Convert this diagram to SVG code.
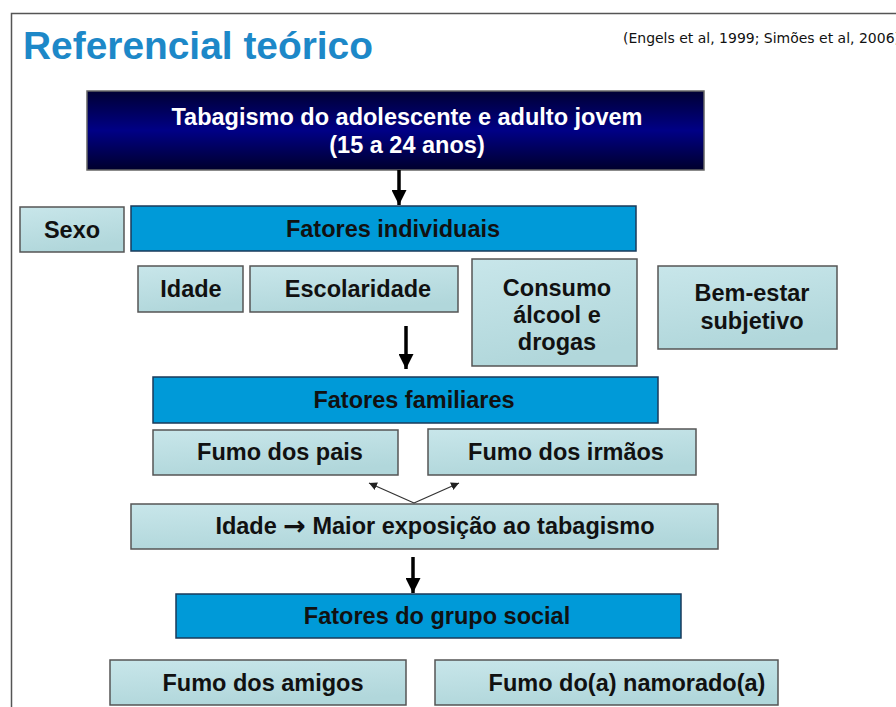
<svg xmlns="http://www.w3.org/2000/svg" width="896" height="707" viewBox="0 0 896 707">
<defs>
<linearGradient id="gDark" x1="0" y1="0" x2="0" y2="1">
<stop offset="0" stop-color="#000033"/>
<stop offset="0.5" stop-color="#000086"/>
<stop offset="1" stop-color="#00002c"/>
</linearGradient>
<linearGradient id="gLight" x1="0" y1="0" x2="0.3" y2="1">
<stop offset="0" stop-color="#c8e6ea"/>
<stop offset="1" stop-color="#b1d7db"/>
</linearGradient>
<marker id="headBig" markerUnits="userSpaceOnUse" markerWidth="16" markerHeight="15" refX="15" refY="7.5" orient="auto">
<path d="M0,0 L15,7.5 L0,15 Z" fill="#000"/>
</marker>
<marker id="headSmall" markerUnits="userSpaceOnUse" markerWidth="9" markerHeight="8" refX="8" refY="4" orient="auto">
<path d="M0,0 L8,4 L0,8 Z" fill="#222"/>
</marker>
<style>
.t{font-family:"Liberation Sans",Arial,sans-serif;font-weight:bold;font-size:23.5px;fill:#111;text-anchor:middle}
.w{fill:#fff}
.light{fill:url(#gLight);stroke:#555;stroke-width:1.5}
.cyan{fill:#009ad8;stroke:#1a3a5a;stroke-width:1.5}
.dark{fill:url(#gDark);stroke:#666;stroke-width:1.5}
.big{stroke:#000;stroke-width:3.5;fill:none;marker-end:url(#headBig)}
.thin{stroke:#333;stroke-width:1.3;fill:none;marker-end:url(#headSmall)}
</style>
</defs>
<rect x="0" y="0" width="896" height="707" fill="#fff"/>
<path d="M11.5,707 V13.5 H896" fill="none" stroke="#555" stroke-width="1.5"/>
<text x="23" y="59" font-family="'Liberation Sans',Arial,sans-serif" font-weight="bold" font-size="38" fill="#1d88c8" textLength="350" lengthAdjust="spacingAndGlyphs">Referencial teórico</text>
<text x="623" y="43" font-family="'DejaVu Sans',Tahoma,sans-serif" font-size="13.5" fill="#111" textLength="277" lengthAdjust="spacingAndGlyphs">(Engels et al, 1999; Simões et al, 2006)</text>

<g id="top">
<rect class="dark" x="87" y="91" width="617" height="79"/>
<text class="t w" x="407" y="125">Tabagismo do adolescente e adulto jovem</text>
<text class="t w" x="407" y="153">(15 a 24 anos)</text>
</g>
<g id="sexo">
<rect class="light" x="20" y="207" width="104" height="45"/>
<text class="t" x="72" y="238">Sexo</text>
</g>
<g id="fatores-individuais">
<rect class="cyan" x="131" y="206" width="505" height="45"/>
<text class="t" x="393" y="237">Fatores individuais</text>
</g>
<g id="idade">
<rect class="light" x="138" y="266" width="105" height="46"/>
<text class="t" x="191" y="297">Idade</text>
</g>
<g id="escolaridade">
<rect class="light" x="250" y="266" width="208" height="46"/>
<text class="t" x="358" y="297">Escolaridade</text>
</g>
<g id="consumo">
<rect class="light" x="472" y="259" width="165" height="107"/>
<text class="t" x="557" y="296">Consumo</text>
<text class="t" x="557" y="323">álcool e</text>
<text class="t" x="557" y="350">drogas</text>
</g>
<g id="bem-estar">
<rect class="light" x="658" y="266" width="179" height="83"/>
<text class="t" x="752" y="301">Bem-estar</text>
<text class="t" x="752" y="329">subjetivo</text>
</g>
<g id="fatores-familiares">
<rect class="cyan" x="153" y="377" width="505" height="46"/>
<text class="t" x="414" y="408">Fatores familiares</text>
</g>
<g id="fumo-pais">
<rect class="light" x="153" y="430" width="245" height="45"/>
<text class="t" x="280" y="460">Fumo dos pais</text>
</g>
<g id="fumo-irmaos">
<rect class="light" x="428" y="429" width="268" height="46"/>
<text class="t" x="566" y="460">Fumo dos irmãos</text>
</g>
<g id="idade-exposicao">
<rect class="light" x="131" y="504" width="587" height="45"/>
<text class="t" x="435" y="534">Idade <tspan font-family="'DejaVu Sans',sans-serif" font-weight="bold" font-size="27" dy="1">→</tspan><tspan dy="-1"> Maior exposição ao tabagismo</tspan></text>
</g>
<g id="fatores-grupo">
<rect class="cyan" x="176" y="594" width="505" height="44"/>
<text class="t" x="437" y="624">Fatores do grupo social</text>
</g>
<g id="fumo-amigos">
<rect class="light" x="110" y="660" width="296" height="45"/>
<text class="t" x="263" y="691">Fumo dos amigos</text>
</g>
<g id="fumo-namorado">
<rect class="light" x="435" y="660" width="343" height="45"/>
<text class="t" x="627" y="691">Fumo do(a) namorado(a)</text>
</g>

<g id="connectors">
<path class="big" d="M399,170 V205"/>
<path class="big" d="M406,326 V369"/>
<path class="big" d="M413,557 V593"/>
<path class="thin" d="M414,503 L369,483"/>
<path class="thin" d="M414,503 L459,483"/>
</g>
</svg>
